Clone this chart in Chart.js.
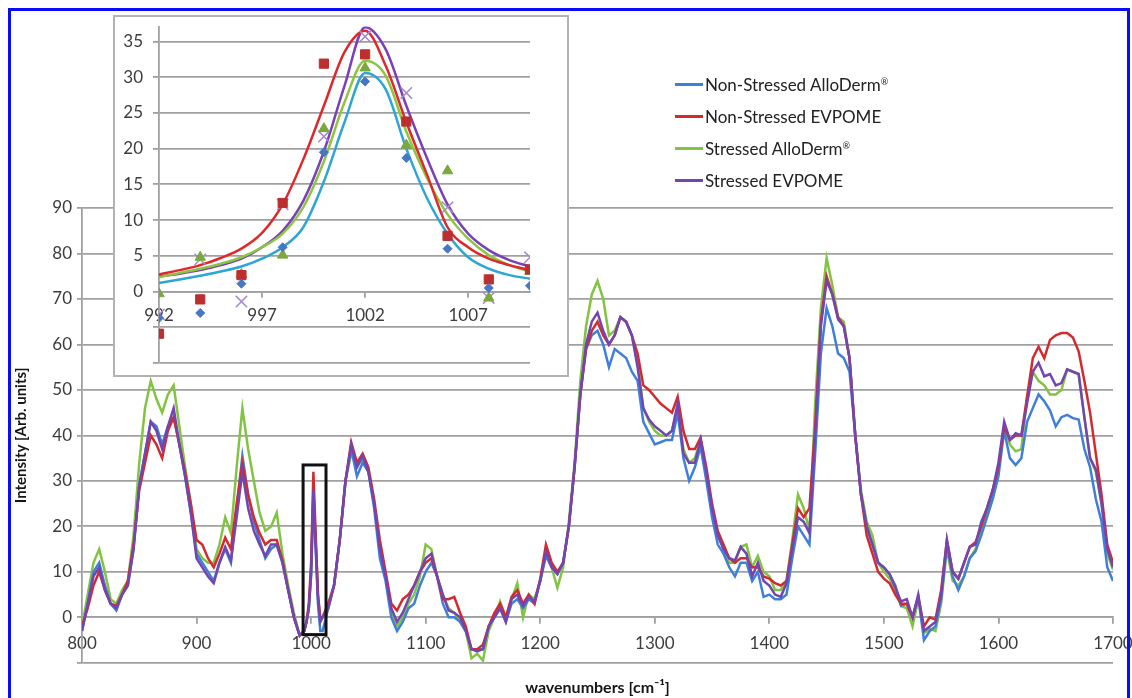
<!DOCTYPE html>
<html>
<head>
<meta charset="utf-8">
<title>Raman spectra</title>
<script src="https://cdn.jsdelivr.net/npm/chart.js@4.4.1/dist/chart.umd.min.js"></script>
<style>
  body { margin: 0; background: #fff; }
  #frame { position: relative; width: 1132px; height: 698px; overflow: hidden; font-family: Lato, sans-serif; }
  #outline { position: absolute; left: 8px; top: 8px; width: 1116px; height: 720px; border: 3px solid #0b0bf5; }
  #main { position: absolute; left: 0; top: 0; }
  #insetBox { position: absolute; left: 113px; top: 15px; width: 452px; height: 358px; background: #fff; border: 2px solid #b2b2b2; }
  #inset { display: block; }
  #legend { position: absolute; left: 675px; top: 68px; }
  .row { display: flex; align-items: center; height: 32px; font-size: 17px; color: #222; }
  .swatch { width: 28px; height: 3px; margin-right: 2px; }
  .row sup { font-size: 9px; vertical-align: 6px; }
</style>
</head>
<body>
<div id="frame">
  <canvas id="main" width="1132" height="698"></canvas>
  <div id="insetBox"><canvas id="inset" width="452" height="358"></canvas></div>
  <div id="legend"></div>
  <div id="outline"></div>
</div>
<script>
// spectra, cm-1 (denser around the 1002 band)
const wavenumbers = [
  800, 805, 810, 815, 820, 825, 830, 835, 840, 845,
  850, 855, 860, 865, 870, 875, 880, 885, 890, 895,
  900, 905, 910, 915, 920, 925, 930, 935, 940, 945,
  950, 955, 960, 965, 970, 975, 980, 985, 990,
  994, 996, 998, 1000, 1002, 1004, 1006, 1008, 1010,
  1015, 1020, 1025, 1030, 1035, 1040, 1045, 1050, 1055, 1060,
  1065, 1070, 1075, 1080, 1085, 1090, 1095, 1100, 1105, 1110,
  1115, 1120, 1125, 1130, 1135, 1140, 1145, 1150, 1155, 1160,
  1165, 1170, 1175, 1180, 1185, 1190, 1195, 1200, 1205, 1210,
  1215, 1220, 1225, 1230, 1235, 1240, 1245, 1250, 1255, 1260,
  1265, 1270, 1275, 1280, 1285, 1290, 1295, 1300, 1305, 1310,
  1315, 1320, 1325, 1330, 1335, 1340, 1345, 1350, 1355, 1360,
  1365, 1370, 1375, 1380, 1385, 1390, 1395, 1400, 1405, 1410,
  1415, 1420, 1425, 1430, 1435, 1440, 1445, 1450, 1455, 1460,
  1465, 1470, 1475, 1480, 1485, 1490, 1495, 1500, 1505, 1510,
  1515, 1520, 1525, 1530, 1535, 1540, 1545, 1550, 1555, 1560,
  1565, 1570, 1575, 1580, 1585, 1590, 1595, 1600, 1605, 1610,
  1615, 1620, 1625, 1630, 1635, 1640, 1645, 1650, 1655, 1660,
  1665, 1670, 1675, 1680, 1685, 1690, 1695, 1700
];

const nonStressedAlloDerm = [
  -3, 3, 10, 12, 7, 3, 1.5, 5, 7, 15,
  29, 36, 43, 42, 38, 42, 44, 38, 31, 23,
  14, 12, 10, 8, 12, 15, 12, 24, 35.5, 27,
  21, 17, 13, 15, 16, 12, 6, 0, -4,
  -3, -1, 2, 9, 26, 15, 3, -3, -3,
  2, 7, 17, 30, 37, 31, 34, 32, 24, 13,
  8, 0, -3, -1, 2, 3, 7, 10, 12, 9,
  3, 0, 0, -1, -3, -7, -7, -7, -2, 0,
  2, -1, 3, 4, 2, 4, 3, 8, 13.5, 11,
  9.5, 12, 20, 33, 49, 59, 62, 63, 60, 55,
  59, 58, 57, 54, 52, 43, 40.5, 38, 38.5, 39,
  39, 45, 35, 30, 33, 37.5, 30, 22, 16, 14,
  11, 9, 12, 12, 8, 10, 4.5, 5, 4, 4,
  5, 13, 20, 18, 16, 36, 58, 68, 64, 58,
  57, 54, 40, 27, 20, 16, 12, 11, 9.5, 7,
  2.5, 3, 0, 4.5, -5, -3, -2, 4, 16, 9,
  6, 9, 13, 14.5, 18, 22, 26, 31, 41, 35,
  33.5, 35, 43, 46, 49, 47.5, 45.5, 42, 44, 44.5,
  43.8, 43.5, 37, 33, 26, 21, 11, 8
];

const nonStressedEvpome = [
  -2, 2, 7, 10, 6, 3, 2.5, 5, 8, 16,
  28, 34, 40, 38, 35, 41, 44, 38, 32, 25,
  17, 16, 13, 11, 14, 17.5, 15, 25, 34, 27,
  22, 18.5, 16, 17, 17, 12.5, 6, 0, -4,
  -3, -1, 3, 12, 32, 18, 5, 0, 0,
  3, 7, 17, 30, 38.5, 34, 36, 33, 26, 17,
  10, 3, 1.5, 4, 5, 7, 10, 12, 13, 9,
  4, 4, 4.5, 1, -2, -7, -7, -6, -2, 1,
  3, 0, 4.5, 6, 3, 5, 3, 8.5, 16, 12,
  10, 12, 20, 33, 49, 59, 63, 65, 62, 60,
  62, 66, 65, 62, 58, 51, 50, 48.5, 47, 46,
  45, 48.5, 41, 37, 37, 39.5, 33, 25, 19, 16,
  13, 12, 13, 13, 11, 11, 9, 8.5, 7.5, 7,
  8, 16, 24, 22, 24, 42, 65, 75, 71, 66,
  64, 57, 40, 27, 18, 14, 10, 8.5, 7.5, 5,
  3, 3, 0, 4.5, -2, 0, -0.5, 6, 17, 10,
  8.5, 12, 15.5, 16.5, 20, 24, 28, 33, 42, 39,
  40, 40, 48.5, 57, 59.5, 57, 61, 62, 62.5, 62.5,
  61.5, 58.5, 52, 45, 36, 27, 16, 12
];

const stressedAlloDerm = [
  -2, 5, 12, 15, 10, 4, 3, 6, 8, 18,
  34, 46, 52, 48, 45, 49, 51, 42, 33, 25,
  15, 13, 12, 12, 16, 22, 18.5, 33, 46, 37,
  30, 23, 19, 20, 23, 14, 7, 1, -4,
  -3, -1, 2, 10, 28, 17, 5, -1, 0,
  3, 7, 17, 30, 36, 33, 35, 32, 25, 15,
  9, 1, -2, 0, 3, 5, 9, 16, 15, 9,
  5, 2, 1, -1, -3, -9, -8, -9.5, -3, 0,
  3.5, 0, 4, 7.5, 0, 5, 4, 8, 14, 11,
  6.5, 11, 21, 34, 52, 64, 71, 74, 70, 62,
  63, 66, 65, 62, 56, 46, 43, 41, 40, 40,
  41, 46, 37, 34, 35, 39, 32, 24, 18, 15,
  12, 12, 15.5, 16, 11, 13.5, 10, 9, 6, 6,
  8, 17, 27, 24, 19, 47, 68, 79, 73, 66,
  65, 57, 40, 28, 21, 18, 12, 10, 8.5, 6,
  2.5, 2, -2, 4, -3.5, -2.5, -3, 3, 15, 8,
  7, 9, 13, 15, 19, 23, 27, 33, 42, 38,
  36.5, 37, 48.5, 54, 52, 51, 49, 49, 50, 54.5,
  54, 53.5, 44, 35, 32, 25, 14, 10.5
];

const stressedEvpome = [
  -3, 3, 9, 11, 6, 3, 2, 5, 7, 15,
  29, 36, 43, 41, 37, 42, 46, 38, 31, 23,
  13, 11, 9, 7.5, 12, 15.5, 12.5, 22, 32, 24,
  19, 16, 13.5, 16, 16, 12, 6, 0, -4,
  -3, -1, 2, 10, 28, 16, 4, -1, 0,
  2, 7, 17, 30, 38, 33, 35.5, 32, 25, 15,
  9, 2, -1, 1, 4, 7, 10, 13, 14, 9,
  5, 1.5, 1, 0, -3, -7, -7.5, -7, -2, 0,
  2, -1, 4, 5, 2.5, 4.5, 3.5, 8, 14.5, 11,
  9.5, 12, 20, 33, 49, 60, 65, 67, 63, 60,
  62, 66, 65, 62, 55, 46, 43.5, 42, 41, 40,
  41, 47, 36, 34, 34, 39, 32, 24, 18, 15,
  13, 12.5, 15.5, 14, 9, 12, 8, 7, 5, 4.5,
  7.5, 15, 22, 21, 18.5, 40, 64, 74, 71, 65.5,
  64, 57, 40, 27, 20, 16, 12, 11, 9.5, 6.5,
  3.5, 4, 0, 5, -3, -2, -1, 5, 17, 10,
  8.5, 12, 15.5, 16, 21, 24, 28, 34, 43, 39,
  40.5, 40, 47, 54, 56, 53, 53.5, 51, 51.5, 54.5,
  54, 53.5, 44, 35, 32.5, 25, 15, 11
];

const xTicks = [800, 900, 1000, 1100, 1200, 1300, 1400, 1500, 1600, 1700];
const yTicks = [-10, 0, 10, 20, 30, 40, 50, 60, 70, 80, 90];

// 1002 band detail: measured points and fitted curves
const insetX = [992, 994, 996, 998, 1000, 1002, 1004, 1006, 1008, 1010];
const ptsNonStressedAlloDerm = [-3.7, -3.0, 1.1, 6.2, 19.5, 29.4, 18.7, 6.0, 0.5, 0.8];
const ptsNonStressedEvpome = [-5.9, -1.1, 2.3, 12.4, 31.9, 33.2, 23.8, 7.8, 1.7, 3.1];
const ptsStressedAlloDerm = [-0.3, 4.8, 2.4, 5.1, 22.8, 31.3, 20.5, 16.9, -0.9, 2.8];
const ptsStressedEvpome = [-3.2, 4.5, -1.4, 12.2, 21.7, 35.7, 27.8, 11.8, -0.9, 4.8];

const fitX = [992, 993, 994, 995, 996, 997, 998, 999, 1000, 1001, 1002, 1003, 1004, 1005, 1006, 1007, 1008, 1009, 1010];
const fitNonStressedAlloDerm = [1.2, 1.7, 2.2, 2.8, 3.5, 4.6, 6.2, 9.0, 15.4, 23.7, 30.6, 28.3, 20.0, 13.1, 8.1, 4.8, 3.2, 2.3, 1.8];
const fitNonStressedEvpome = [2.4, 3.0, 3.7, 4.7, 6.0, 8.2, 12.2, 18.5, 26.0, 33.5, 36.5, 31.6, 23.7, 16.4, 9.0, 6.2, 4.6, 3.7, 3.0];
const fitStressedAlloDerm = [2.0, 2.6, 3.2, 3.9, 4.8, 6.2, 8.1, 11.8, 18.2, 26.5, 32.3, 30.2, 22.4, 15.9, 10.8, 7.4, 5.1, 3.7, 2.8];
const fitStressedEvpome = [2.1, 2.5, 3.0, 3.7, 4.6, 6.2, 8.5, 12.7, 19.6, 28.8, 37.0, 33.9, 26.0, 18.7, 12.2, 8.1, 5.8, 4.4, 3.5];

const insetXTicks = [992, 997, 1002, 1007];
const insetYTicks = [-10, -5, 0, 5, 10, 15, 20, 25, 30, 35];

// marked band on the full spectrum
const bandBox = { xMin: 993, xMax: 1013, yMin: -3.8, yMax: 33.5 };

Chart.defaults.font.family = 'Lato, sans-serif';
Chart.defaults.color = '#3c3c3c';
Chart.defaults.animation = false;

const gridColor = '#a0a0a0';
const toXY = (xs, ys) => xs.map((x, i) => ({ x: x, y: ys[i] }));

// keep tick labels from pushing the plot area around
const noEdgePadding = s => { s.paddingLeft = 0; s.paddingRight = 0; s.paddingTop = 0; s.paddingBottom = 0; };

const bandBoxPlugin = {
  id: 'bandBox',
  afterDatasetsDraw(chart) {
    const { ctx, scales: { x, y } } = chart;
    const l = x.getPixelForValue(bandBox.xMin), r = x.getPixelForValue(bandBox.xMax);
    const t = y.getPixelForValue(bandBox.yMax), b = y.getPixelForValue(bandBox.yMin);
    ctx.save();
    ctx.strokeStyle = '#111';
    ctx.lineWidth = 3;
    ctx.strokeRect(l, t, r - l, b - t);
    ctx.restore();
  }
};

function spectrum(label, values, color, order) {
  return {
    label: label,
    data: toXY(wavenumbers, values),
    borderColor: color,
    backgroundColor: color,
    borderWidth: 2.5,
    pointRadius: 0,
    tension: 0,
    order: order
  };
}

const mainChart = new Chart(document.getElementById('main'), {
  type: 'line',
  data: {
    datasets: [
      spectrum('Non-Stressed AlloDerm®', nonStressedAlloDerm, '#3f7fd9', 2),
      spectrum('Non-Stressed EVPOME', nonStressedEvpome, '#d42a2e', 1),
      spectrum('Stressed AlloDerm®', stressedAlloDerm, '#82c341', 3),
      spectrum('Stressed EVPOME', stressedEvpome, '#7245b0', 0)
    ]
  },
  options: {
    responsive: false,
    layout: { padding: { left: 8, top: 208, right: 19, bottom: 1 } },
    plugins: { legend: { display: false }, tooltip: { enabled: false } },
    scales: {
      x: {
        type: 'linear',
        position: { y: 0 },
        min: 800,
        max: 1700,
        afterBuildTicks: s => { s.ticks = xTicks.map(v => ({ value: v })); },
        afterFit: noEdgePadding,
        ticks: { autoSkip: false, maxRotation: 0, padding: 10, font: { size: 17 }, callback: v => String(v) },
        grid: { drawOnChartArea: false, tickLength: 6, color: gridColor, lineWidth: 1.8 },
        border: { color: gridColor, width: 1.8 }
      },
      xTitle: {
        type: 'linear',
        axis: 'x',
        position: 'bottom',
        min: 800,
        max: 1700,
        afterFit: noEdgePadding,
        ticks: { display: false },
        grid: { display: false, drawTicks: false },
        border: { display: false },
        title: {
          display: true,
          text: 'wavenumbers [cm⁻¹]',
          color: '#151515',
          font: { size: 16, weight: 'bold' },
          padding: { top: 15, bottom: 0 }
        }
      },
      y: {
        min: -10,
        max: 90,
        afterBuildTicks: s => { s.ticks = yTicks.map(v => ({ value: v })); },
        afterFit: s => { s.width = 74; noEdgePadding(s); },
        ticks: { padding: 5, font: { size: 17 }, callback: v => (v < 0 ? '' : String(v)) },
        grid: { color: gridColor, lineWidth: 1.8, tickLength: 5 },
        border: { color: gridColor, width: 1.8 },
        title: {
          display: true,
          text: 'Intensity [Arb. units]',
          color: '#151515',
          font: { size: 15, weight: 'bold' },
          padding: { top: 4, bottom: 0 }
        }
      }
    }
  },
  plugins: [bandBoxPlugin]
});

// legend built from the spectrum datasets
const legend = document.getElementById('legend');
mainChart.data.datasets.forEach(ds => {
  const row = document.createElement('div');
  row.className = 'row';
  const sw = document.createElement('span');
  sw.className = 'swatch';
  sw.style.background = ds.borderColor;
  const txt = document.createElement('span');
  txt.innerHTML = ds.label.replace('®', '<sup>®</sup>');
  row.appendChild(sw);
  row.appendChild(txt);
  legend.appendChild(row);
});

function fitLine(ys, color) {
  return {
    data: toXY(fitX, ys),
    showLine: true,
    borderColor: color,
    borderWidth: 2.5,
    pointRadius: 0,
    cubicInterpolationMode: 'monotone',
    order: 1
  };
}

function markers(ys, color, style, radius) {
  return {
    data: toXY(insetX, ys),
    showLine: false,
    pointStyle: style,
    pointRadius: radius,
    backgroundColor: color,
    borderColor: color,
    borderWidth: style === 'crossRot' ? 1.5 : 1,
    order: 0
  };
}

new Chart(document.getElementById('inset'), {
  type: 'scatter',
  data: {
    datasets: [
      fitLine(fitNonStressedAlloDerm, '#2ea6d4'),
      fitLine(fitNonStressedEvpome, '#e0282c'),
      fitLine(fitStressedAlloDerm, '#8cc63f'),
      fitLine(fitStressedEvpome, '#7a40b8'),
      markers(ptsNonStressedAlloDerm, '#4676c6', 'rectRot', 4.5),
      markers(ptsNonStressedEvpome, '#bd2f2f', 'rect', 6.5),
      markers(ptsStressedAlloDerm, '#7aa83c', 'triangle', 6),
      markers(ptsStressedEvpome, '#a789cc', 'crossRot', 8)
    ]
  },
  options: {
    responsive: false,
    layout: { padding: { left: 0, top: 6, right: 37, bottom: 12 } },
    plugins: { legend: { display: false }, tooltip: { enabled: false } },
    scales: {
      x: {
        type: 'linear',
        position: { y: 0 },
        min: 992,
        max: 1010,
        afterBuildTicks: s => { s.ticks = insetXTicks.map(v => ({ value: v })); },
        afterFit: noEdgePadding,
        ticks: { autoSkip: false, maxRotation: 0, padding: 9, font: { size: 17 }, callback: v => String(v) },
        grid: { drawOnChartArea: false, tickLength: 5, color: gridColor, lineWidth: 1.8 },
        border: { color: gridColor, width: 1.8 }
      },
      y: {
        min: -10,
        max: 37.1,
        afterBuildTicks: s => { s.ticks = insetYTicks.map(v => ({ value: v })); },
        afterFit: s => { s.width = 44; noEdgePadding(s); },
        ticks: { padding: 10, font: { size: 17 }, callback: v => (v < 0 ? '' : String(v)) },
        grid: { color: gridColor, lineWidth: 1.8, tickLength: 6 },
        border: { color: gridColor, width: 1.8 }
      }
    }
  }
});
</script>
</body>
</html>
